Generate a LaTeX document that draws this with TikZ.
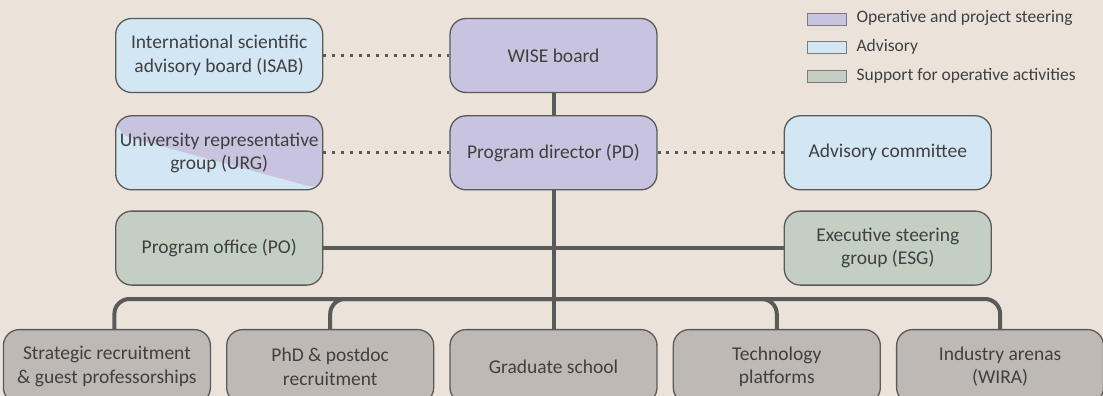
\documentclass[tikz,border=0pt]{standalone}
\usepackage{fontspec}
\setmainfont{Carlito}
\usetikzlibrary{positioning}
\definecolor{bgcolor}{HTML}{EBE3DA}
\definecolor{steercolor}{HTML}{C8C3DF}
\definecolor{advicecolor}{HTML}{D3E6F4}
\definecolor{supportcolor}{HTML}{C4CFC3}
\definecolor{unitcolor}{HTML}{BEB9B5}
\definecolor{linecolor}{HTML}{5A5A5A}
\definecolor{textcolor}{HTML}{404040}
\tikzset{%
  every box/.style={
    rectangle,
    rounded corners=16pt,
    draw=linecolor,
    line width=1.3pt,
    minimum width=207pt,
    minimum height=74pt,
    inner sep=2pt,
    align=center,
    text=textcolor,
    font=\fontsize{19.5}{23.5}\selectfont
  },
  steering/.style={every box, fill=steercolor},
  advisory/.style={every box, fill=advicecolor},
  support/.style={every box, fill=supportcolor},
  unit/.style={every box, fill=unitcolor},
  swatch/.style={
    rectangle,
    draw=linecolor!80,
    line width=0.8pt,
    minimum width=39pt,
    minimum height=12pt,
    inner sep=0pt
  },
}

\begin{document}
\begin{tikzpicture}[x=1pt,y=-1pt,node distance=22pt and 126pt]
        \tikzstyle{link}=[line width=4pt,draw=linecolor]
        \tikzstyle{dotlink}=[line width=3pt,draw=linecolor,dash pattern=on 3pt off 5.8pt]
        \tikzstyle{key}=[inner sep=0pt,text=textcolor,font=\fontsize{17.5}{20}\selectfont,text height=1.9ex,text depth=0.4ex]

        \useasboundingbox (0,0) rectangle (1103,396);
        \fill[bgcolor] (0,0) rectangle (1103,396);
        \clip (0,0) rectangle (1103,396);

        \node[steering] (board) at (553.5,55.5) {WISE board};
        \node[steering,below=of board] (director) {Program director (PD)};
        \node[advisory,left=of board] (isab) {International scientific\\advisory board (ISAB)};
        \node[advisory,left=of director,path picture={
            \fill[steercolor] ([yshift=-18pt]path picture bounding box.north west)
              -- (path picture bounding box.south east)
              -- (path picture bounding box.north east)
              -- (path picture bounding box.north west) -- cycle;}] (urg) {University representative\\group (URG)};
        \node[advisory,right=of director] (committee) {Advisory committee};
        \node[support,below=20pt of urg] (office) {Program office (PO)};
        \node[support,below=20pt of committee] (esg) {Executive steering\\group (ESG)};

        \node[unit,below=138.5pt of director] (graduate) {Graduate school};
        \node[unit,left=15pt of graduate] (phd) {PhD \& postdoc\\recruitment};
        \node[unit,left=15pt of phd] (strategic) {Strategic recruitment\\\& guest professorships};
        \node[unit,right=15pt of graduate] (technology) {Technology\\platforms};
        \node[unit,right=15pt of technology] (industry) {Industry arenas\\(WIRA)};
        \coordinate (split) at (553.5,299);

        \draw[link] (board) -- (director);
        \draw[link] (director) -- (graduate);
        \draw[link] (office) -- (esg);
        \draw[link,rounded corners=15pt] (split) -| ([xshift=7.5pt]strategic.north);
        \draw[link,rounded corners=15pt] (split) -| (phd.north);
        \draw[link,rounded corners=15pt] (split) -| (technology.north);
        \draw[link,rounded corners=15pt] (split) -| (industry.north);

        \draw[dotlink] (isab) -- (board);
        \draw[dotlink] (urg) -- (director);
        \draw[dotlink] (director) -- (committee);

        % legend
        \node[swatch,fill=steercolor] (keysteer) at (826.5,19) {};
        \node[swatch,fill=advicecolor,below=16pt of keysteer] (keyadvice) {};
        \node[swatch,fill=supportcolor,below=16pt of keyadvice] (keysupport) {};
        \node[key,right=10pt of keysteer] (keysteertext) {Operative and project steering};
        \node[key,right=10pt of keyadvice] (keyadvicetext) {Advisory};
        \node[key,right=10pt of keysupport] (keysupporttext) {Support for operative activities};
\end{tikzpicture}
\end{document}
